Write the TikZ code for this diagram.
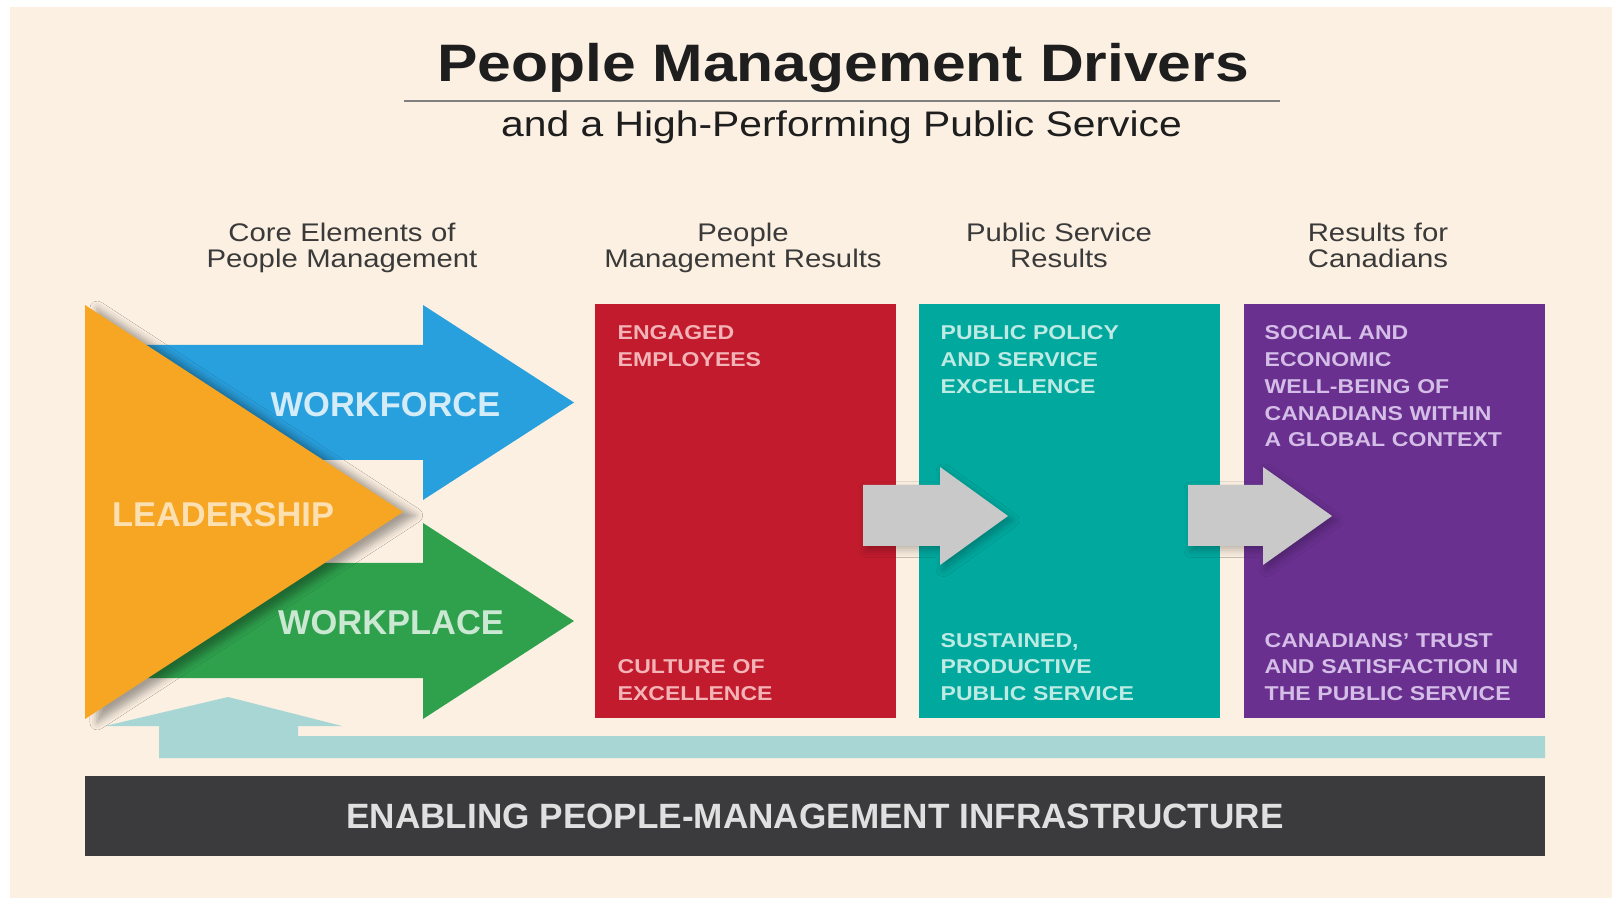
\documentclass[tikz,border=0pt]{standalone}
\usepackage{fontspec}
\setmainfont{Liberation Sans}[FakeStretch=1.15]
\newfontfamily\labelfont{Liberation Sans}
\usetikzlibrary{shadows.blur}

\definecolor{bgcream}{HTML}{FCF0E2}
\definecolor{titleblack}{HTML}{1E1E1E}
\definecolor{headgray}{HTML}{3A3A3A}
\definecolor{leadorange}{HTML}{F6A623}
\definecolor{forceblue}{HTML}{29A0DE}
\definecolor{placegreen}{HTML}{2FA14D}
\definecolor{engred}{HTML}{C11B2D}
\definecolor{pubteal}{HTML}{00A89E}
\definecolor{canpurple}{HTML}{69308F}
\definecolor{stepgray}{HTML}{C9C9C9}
\definecolor{infrablue}{HTML}{A8D6D4}
\definecolor{infradark}{HTML}{3B3B3D}
\definecolor{redtxt}{HTML}{F4B4B7}
\definecolor{tealtxt}{HTML}{BDEBE4}
\definecolor{purpletxt}{HTML}{D4BDE6}

\begin{document}
\begin{tikzpicture}[
    header/.style={font=\fontsize{7.25}{7.4}\selectfont, text=headgray,
      text width=3.2cm, align=center, inner sep=0pt, anchor=base},
    boxtext/.style={font=\bfseries\fontsize{5.7}{7.6}\selectfont,
      text width=2.8cm, align=left, inner sep=0pt, anchor=base west},
    element/.style={font=\labelfont\bfseries\fontsize{9.8}{11}\selectfont,
      inner sep=0pt, anchor=base}
  ]
        \useasboundingbox (0,0) rectangle (16.12,8.98);

        % ===== BACKGROUND =====
        \fill[white] (0,0) rectangle (16.12,8.98);
        \fill[bgcream] (0.10,0) rectangle (16.12,8.91);

        % ===== TITLE =====
        \node[font=\bfseries\fontsize{15}{18}\selectfont, text=titleblack, anchor=base,
            inner sep=0pt] (title) at (8.43,8.16) {People Management Drivers};
        \draw[gray, line width=0.6pt] (4.04,7.97) -- (12.80,7.97);
        \node[font=\fontsize{10.1}{12}\selectfont, text=titleblack, anchor=base,
            inner sep=0pt] (subtitle) at (8.415,7.61) {and a High-Performing Public Service};

        % ===== COLUMN HEADERS =====
        \node[header] (hdcore)   at (3.42,6.56)  {Core Elements of\\People Management};
        \node[header] (hdpeople) at (7.43,6.56)  {People\\Management Results};
        \node[header] (hdpublic) at (10.59,6.56) {Public Service\\Results};
        \node[header] (hdcanada) at (13.78,6.56) {Results for\\Canadians};

        % ===== INFRASTRUCTURE (bar + upward arrow) =====
        \fill[infrablue] (1.59,1.40) -- (1.59,1.72) -- (1.05,1.72) -- (2.28,2.01)
            -- (3.42,1.72) -- (2.98,1.72) -- (2.98,1.62) -- (15.45,1.62)
            -- (15.45,1.40) -- cycle;
        \fill[infradark] (0.85,0.42) rectangle (15.45,1.22);
        \node[font=\labelfont\bfseries\fontsize{10}{12}\selectfont, text=black!12,
            anchor=base, inner sep=0pt] (infra) at (8.15,0.70)
            {ENABLING PEOPLE-MANAGEMENT INFRASTRUCTURE};

        % ===== RESULT COLUMNS =====
        \fill[engred]    (5.95,1.80) rectangle (8.96,5.94);
        \fill[pubteal]   (9.19,1.80) rectangle (12.20,5.94);
        \fill[canpurple] (12.44,1.80) rectangle (15.45,5.94);

        \node[boxtext, text=redtxt] (engaged) at (6.17,5.58) {ENGAGED\\EMPLOYEES};
        \node[boxtext, text=redtxt] (culture) at (6.17,2.24) {CULTURE OF\\EXCELLENCE};
        \node[boxtext, text=tealtxt] (policy) at (9.40,5.58)
            {PUBLIC POLICY\\AND SERVICE\\EXCELLENCE};
        \node[boxtext, text=tealtxt] (sustained) at (9.40,2.51)
            {SUSTAINED,\\PRODUCTIVE\\PUBLIC SERVICE};
        \node[boxtext, text=purpletxt] (wellbeing) at (12.64,5.58)
            {SOCIAL AND\\ECONOMIC\\WELL-BEING OF\\CANADIANS WITHIN\\A GLOBAL CONTEXT};
        \node[boxtext, text=purpletxt] (trust) at (12.64,2.51)
            {CANADIANS' TRUST\\AND SATISFACTION IN\\THE PUBLIC SERVICE};

        % ===== GRAY STEP ARROWS between the columns =====
        \fill[stepgray, blur shadow={shadow xshift=1pt, shadow yshift=-1.2pt, shadow opacity=25}]
            (8.63,4.13) -- (9.40,4.13) -- (9.40,4.31) -- (10.08,3.82)
            -- (9.40,3.33) -- (9.40,3.52) -- (8.63,3.52) -- cycle;
        \fill[stepgray, blur shadow={shadow xshift=1pt, shadow yshift=-1.2pt, shadow opacity=25}]
            (11.88,4.13) -- (12.63,4.13) -- (12.63,4.31) -- (13.32,3.82)
            -- (12.63,3.33) -- (12.63,3.52) -- (11.88,3.52) -- cycle;

        % ===== CORE ELEMENTS: workforce, workplace, leadership =====
        \fill[forceblue] (0.85,5.53) -- (4.23,5.53) -- (4.23,5.93) -- (5.74,4.955)
            -- (4.23,3.98) -- (4.23,4.38) -- (0.85,4.38) -- cycle;
        \fill[placegreen] (0.85,3.35) -- (4.23,3.35) -- (4.23,3.75) -- (5.74,2.77)
            -- (4.23,1.79) -- (4.23,2.20) -- (0.85,2.20) -- cycle;
        % leadership triangle, casting a shadow on both arrows
        \fill[leadorange, blur shadow={shadow xshift=3.5pt, shadow yshift=-1pt, shadow opacity=35}]
            (0.85,5.93) -- (4.03,3.86) -- (0.85,1.79) -- cycle;

        \node[element, text=forceblue!20!white]  (lblforce) at (3.855,4.81) {WORKFORCE};
        \node[element, text=leadorange!35!white] (lbllead)  at (2.23,3.71)  {LEADERSHIP};
        \node[element, text=placegreen!25!white] (lblplace) at (3.91,2.63)  {WORKPLACE};

\end{tikzpicture}
\end{document}
